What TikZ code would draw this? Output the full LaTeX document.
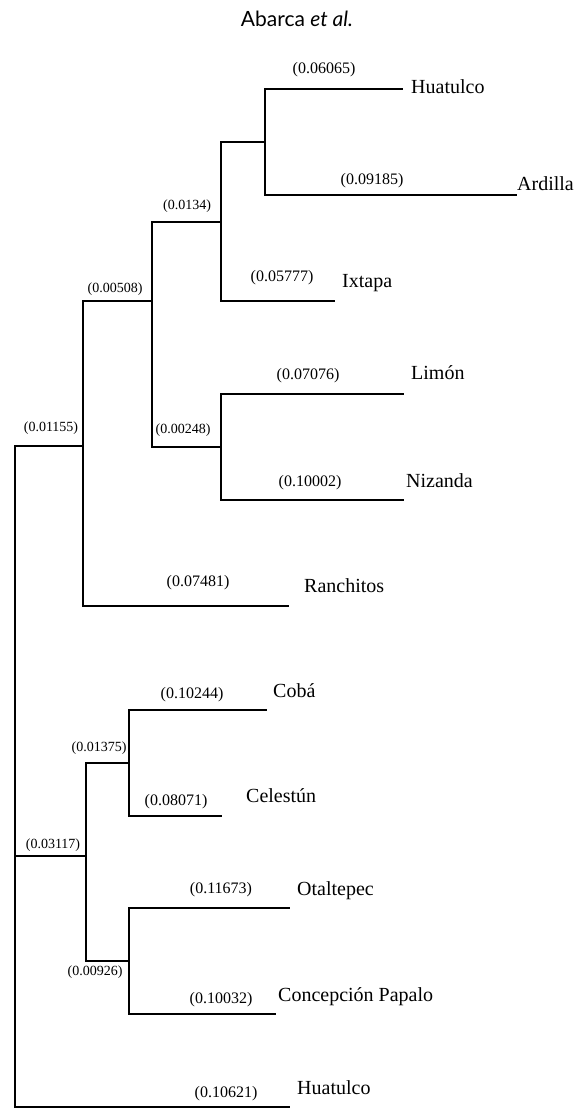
\documentclass[tikz,border=0pt]{standalone}
\usepackage{fontspec}
\setmainfont{Liberation Serif}
\newfontfamily\titlefont{Lato}
\tikzset{
    branch/.style={line width=1.5pt},
    taxon/.style={anchor=base west, inner sep=0pt, font=\fontsize{20}{24}\selectfont},
    blen/.style={inner sep=0pt, font=\fontsize{14}{16}\selectfont},
    blentip/.style={inner sep=0pt, font=\fontsize{16}{18}\selectfont},
}
\begin{document}
\begin{tikzpicture}[x=1pt, y=-1pt]
        \useasboundingbox (0, 0) rectangle (576, 1108);
        % Title:
        \node[font=\titlefont\fontsize{21}{25}\selectfont] (title) at (297, 19){Abarca \textit{et al.}};
        % Inner nodes and tips:
        \coordinate (root) at (15, 700);
        \coordinate (nA) at (83, 446);
        \coordinate (nA1) at (152, 301);
        \coordinate (nA2) at (221, 222);
        \coordinate (nA3) at (221, 447);
        \coordinate (nA4) at (265, 142);
        \coordinate (nB) at (86, 856);
        \coordinate (nB1) at (129, 763);
        \coordinate (nB2) at (129, 961);
        \coordinate (tHuatulcoA) at (403, 89);
        \coordinate (tArdilla) at (517, 195);
        \coordinate (tIxtapa) at (335, 301);
        \coordinate (tLimon) at (404, 394);
        \coordinate (tNizanda) at (404, 500);
        \coordinate (tRanchitos) at (289, 606);
        \coordinate (tCoba) at (267, 710);
        \coordinate (tCelestun) at (222, 816);
        \coordinate (tOtaltepec) at (290, 908);
        \coordinate (tConcepcion) at (276, 1014);
        \coordinate (tHuatulcoB) at (290, 1107);
        % Branches:
        \draw[branch] (root) |- (nA);
        \draw[branch] (root) |- (nB);
        \draw[branch] (root) |- (tHuatulcoB);
        \draw[branch] (nA) |- (nA1);
        \draw[branch] (nA) |- (tRanchitos);
        \draw[branch] (nA1) |- (nA2);
        \draw[branch] (nA1) |- (nA3);
        \draw[branch] (nA2) |- (nA4);
        \draw[branch] (nA2) |- (tIxtapa);
        \draw[branch] (nA4) |- (tHuatulcoA);
        \draw[branch] (nA4) |- (tArdilla);
        \draw[branch] (nA3) |- (tLimon);
        \draw[branch] (nA3) |- (tNizanda);
        \draw[branch] (nB) |- (nB1);
        \draw[branch] (nB) |- (nB2);
        \draw[branch] (nB1) |- (tCoba);
        \draw[branch] (nB1) |- (tCelestun);
        \draw[branch] (nB2) |- (tOtaltepec);
        \draw[branch] (nB2) |- (tConcepcion);
        % Taxa:
        \node[taxon] (lHuatulcoA) at (411, 93){Huatulco};
        \node[taxon] (lArdilla) at (517, 190){Ardilla};
        \node[taxon] (lIxtapa) at (342, 287){Ixtapa};
        \node[taxon] (lLimon) at (411, 379){Limón};
        \node[taxon] (lNizanda) at (406, 487){Nizanda};
        \node[taxon] (lRanchitos) at (304, 592){Ranchitos};
        \node[taxon] (lCoba) at (273, 697){Cobá};
        \node[taxon] (lCelestun) at (246, 802){Celestún};
        \node[taxon] (lOtaltepec) at (297, 895){Otaltepec};
        \node[taxon] (lConcepcion) at (278, 1001){Concepción Papalo};
        \node[taxon] (lHuatulcoB) at (297, 1094){Huatulco};
        % Branch lengths:
        \node[blentip] (bHuatulcoA) at (324, 70){(0.06065)};
        \node[blentip] (bArdilla) at (372, 181){(0.09185)};
        \node[blentip] (bIxtapa) at (282, 278){(0.05777)};
        \node[blen] (bA2) at (187, 206){(0.0134)};
        \node[blen] (bA1) at (115, 289){(0.00508)};
        \node[blentip] (bLimon) at (308, 376){(0.07076)};
        \node[blentip] (bNizanda) at (310, 483){(0.10002)};
        \node[blen] (bA3) at (183, 430){(0.00248)};
        \node[blen] (bA) at (51, 428){(0.01155)};
        \node[blentip] (bRanchitos) at (198, 583){(0.07481)};
        \node[blentip] (bCoba) at (192, 695){(0.10244)};
        \node[blen] (bB1) at (99, 748){(0.01375)};
        \node[blentip] (bCelestun) at (176, 802){(0.08071)};
        \node[blen] (bB) at (53, 845){(0.03117)};
        \node[blentip] (bOtaltepec) at (221, 890){(0.11673)};
        \node[blentip] (bConcepcion) at (221, 1000){(0.10032)};
        \node[blen] (bB2) at (95, 972){(0.00926)};
        \node[blentip] (bHuatulcoB) at (226, 1094){(0.10621)};
    \end{tikzpicture}
\end{document}
